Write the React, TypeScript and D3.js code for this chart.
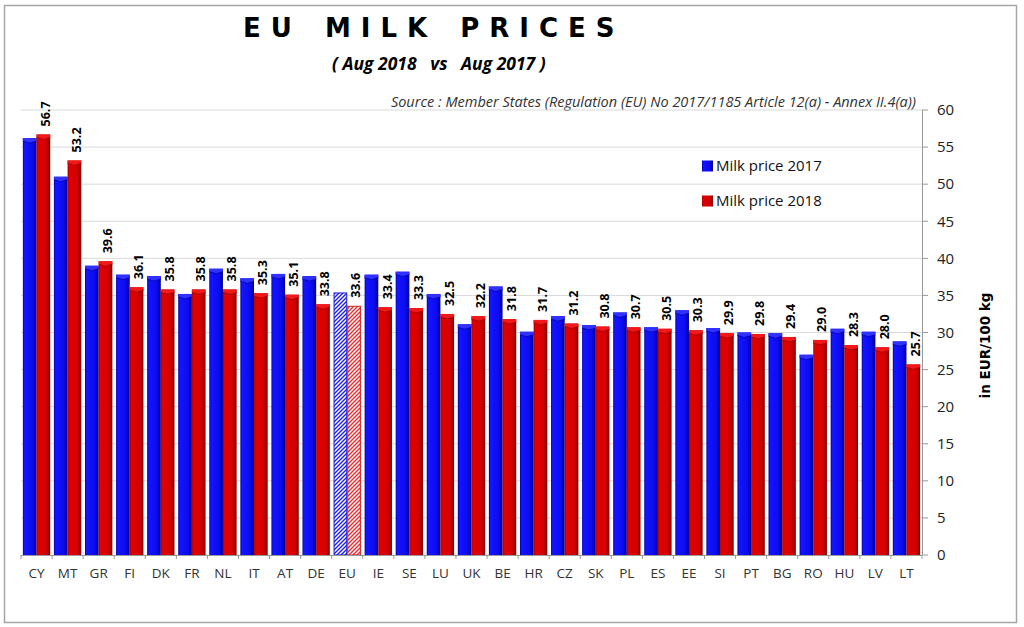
import React from 'react';
import * as d3 from 'd3';

// country codes, in the order of the chart (sorted by 2018 price)
const categories = ['CY', 'MT', 'GR', 'FI', 'DK', 'FR', 'NL', 'IT', 'AT', 'DE', 'EU', 'IE', 'SE', 'LU', 'UK', 'BE', 'HR', 'CZ', 'SK', 'PL', 'ES', 'EE', 'SI', 'PT', 'BG', 'RO', 'HU', 'LV', 'LT'];

// EUR/100 kg, Aug 2017
const price2017 = [56.2, 51.0, 39.0, 37.8, 37.6, 35.2, 38.6, 37.3, 37.9, 37.6, 35.4, 37.8, 38.2, 35.2, 31.1, 36.2, 30.1, 32.2, 31.0, 32.7, 30.7, 33.0, 30.6, 30.0, 29.9, 27.0, 30.5, 30.1, 28.8];

// EUR/100 kg, Aug 2018 (labelled)
const price2018 = [56.7, 53.2, 39.6, 36.1, 35.8, 35.8, 35.8, 35.3, 35.1, 33.8, 33.6, 33.4, 33.3, 32.5, 32.2, 31.8, 31.7, 31.2, 30.8, 30.7, 30.5, 30.3, 29.9, 29.8, 29.4, 29.0, 28.3, 28.0, 25.7];

const seriesNames = ['Milk price 2017', 'Milk price 2018'];
const yTicks = [0, 5, 10, 15, 20, 25, 30, 35, 40, 45, 50, 55, 60];

const W = 1024;
const H = 627;
const plot = { left: 21, right: 922, top: 110, bottom: 555 };

const App: React.FC = () => {
  const x = d3.scaleBand<string>()
    .domain(categories)
    .range([plot.left, plot.right])
    .paddingInner(0.12)
    .paddingOuter(0.06);

  const xSub = d3.scaleBand<string>()
    .domain(['2017', '2018'])
    .range([0, x.bandwidth()]);

  const y = d3.scaleLinear().domain([0, 60]).range([plot.bottom, plot.top]);

  const step = x.step();
  const boundaries = d3.range(categories.length + 1).map(i => plot.left + i * step);

  const bar = (cat: string, key: string, v: number) => {
    const bx = x(cat)! + xSub(key)!;
    const bw = xSub.bandwidth();
    const by = y(v);
    const bh = plot.bottom - by;
    const isEU = cat === 'EU';
    const blue = key === '2017';
    if (isEU) {
      return (
        <rect key={cat + key} x={bx + 0.5} y={by + 0.5} width={bw - 1} height={bh - 0.5}
          fill={blue ? 'url(#hatchBlue)' : 'url(#hatchRed)'}
          stroke={blue ? '#1a1ae0' : '#d02020'} strokeWidth={1} />
      );
    }
    const cap = `M${bx},${by} L${bx + bw},${by} L${bx + bw},${by + 3} L${bx + bw / 2},${by + 5} L${bx},${by + 3} Z`;
    return (
      <g key={cat + key}>
        <rect x={bx} y={by} width={bw} height={bh} fill={blue ? 'url(#gBlue)' : 'url(#gRed)'} />
        <path d={cap} fill={blue ? '#3030ff' : '#f01818'} />
        <path d={`M${bx},${by + 3} L${bx + bw / 2},${by + 5} L${bx + bw},${by + 3}`} fill="none"
          stroke={blue ? '#0000a8' : '#a00000'} strokeWidth={0.8} />
      </g>
    );
  };

  return (
    <svg width={W} height={H} style={{ position: 'absolute', left: 0, top: 0, background: '#fff' }}>
      <defs>
        <linearGradient id="gBlue" x1="0" x2="1" y1="0" y2="0">
          <stop offset="0%" stopColor="#0000a0" />
          <stop offset="12%" stopColor="#1414ff" />
          <stop offset="70%" stopColor="#0c0cf0" />
          <stop offset="100%" stopColor="#000098" />
        </linearGradient>
        <linearGradient id="gRed" x1="0" x2="1" y1="0" y2="0">
          <stop offset="0%" stopColor="#9a0000" />
          <stop offset="12%" stopColor="#e00000" />
          <stop offset="70%" stopColor="#d40000" />
          <stop offset="100%" stopColor="#880000" />
        </linearGradient>
        <pattern id="hatchBlue" patternUnits="userSpaceOnUse" width="4" height="4">
          <rect width="4" height="4" fill="#fff" />
          <path d="M-1,1 l2,-2 M0,4 l4,-4 M3,5 l2,-2" stroke="#2020e0" strokeWidth="1.4" />
        </pattern>
        <pattern id="hatchRed" patternUnits="userSpaceOnUse" width="4" height="4">
          <rect width="4" height="4" fill="#fff" />
          <path d="M-1,1 l2,-2 M0,4 l4,-4 M3,5 l2,-2" stroke="#e03030" strokeWidth="1.4" />
        </pattern>
      </defs>

      {/* outer frame */}
      <rect x={4.5} y={5.5} width={1012} height={617} fill="#fff" stroke="#a6a6a6" strokeWidth={1.5} />

      {/* titles */}
      <text x={243} y={37} fontFamily="DejaVu Sans" fontWeight="bold" fontSize={26}
        letterSpacing={10} wordSpacing={4} fill="#000">EU MILK PRICES</text>
      <text x={332} y={70} fontFamily="Open Sans" fontWeight="bold" fontStyle="italic" fontSize={17.5}
        fill="#000" style={{ whiteSpace: 'pre' }}>( Aug 2018   vs   Aug 2017 )</text>
      <text x={916} y={107} textAnchor="end" fontFamily="Open Sans" fontStyle="italic" fontSize={14.5}
        fill="#333">Source : Member States (Regulation (EU) No 2017/1185 Article 12(a) - Annex II.4(a))</text>

      {/* grid */}
      {yTicks.filter(t => t > 0).map(t => (
        <line key={'g' + t} x1={plot.left} x2={plot.right} y1={y(t)} y2={y(t)} stroke="#d9d9d9" strokeWidth={1} />
      ))}

      {/* bars */}
      {categories.map((c, i) => (
        <g key={c}>
          {bar(c, '2017', price2017[i])}
          {bar(c, '2018', price2018[i])}
        </g>
      ))}

      {/* value labels */}
      {categories.map((c, i) => {
        const cx = x(c)! + xSub('2018')! + xSub.bandwidth() / 2 + 2;
        const ty = y(price2018[i]) - 8;
        return (
          <text key={'v' + c} transform={`translate(${cx},${ty}) rotate(-90)`} dy="0.35em"
            fontFamily="Open Sans" fontWeight="bold" fontSize={12.5} fill="#000">
            {price2018[i].toFixed(1)}
          </text>
        );
      })}

      {/* x axis */}
      <line x1={plot.left} x2={plot.right} y1={plot.bottom + 0.5} y2={plot.bottom + 0.5} stroke="#999" />
      {boundaries.map((b, i) => (
        <line key={'t' + i} x1={b} x2={b} y1={plot.bottom} y2={plot.bottom + 4} stroke="#999" />
      ))}
      {categories.map(c => (
        <text key={'l' + c} x={x(c)! + x.bandwidth() / 2} y={578} textAnchor="middle"
          fontFamily="Open Sans" fontSize={13.5} fill="#333">{c}</text>
      ))}

      {/* y axis (right) */}
      <line x1={plot.right + 0.5} x2={plot.right + 0.5} y1={plot.top} y2={plot.bottom} stroke="#999" />
      {yTicks.map(t => (
        <g key={'y' + t}>
          <line x1={plot.right} x2={plot.right + 6} y1={y(t)} y2={y(t)} stroke="#999" />
          <text x={937} y={y(t)} dy="0.35em" fontFamily="Open Sans" fontSize={15} fill="#222">{t}</text>
        </g>
      ))}
      <text transform={`translate(990,${(plot.top + plot.bottom) / 2 + 13}) rotate(-90)`} textAnchor="middle"
        fontFamily="DejaVu Sans" fontWeight="bold" fontSize={13.5} fill="#000">in EUR/100 kg</text>

      {/* legend */}
      {seriesNames.map((s, i) => (
        <g key={s} transform={`translate(702,${166 + i * 35})`}>
          <rect x={0} y={-5.5} width={11} height={11} fill={i === 0 ? 'url(#gBlue)' : 'url(#gRed)'} />
          <text x={14} y={0} dy="0.35em" fontFamily="Open Sans" fontSize={15} fill="#111">{s}</text>
        </g>
      ))}
    </svg>
  );
};

export default App;
